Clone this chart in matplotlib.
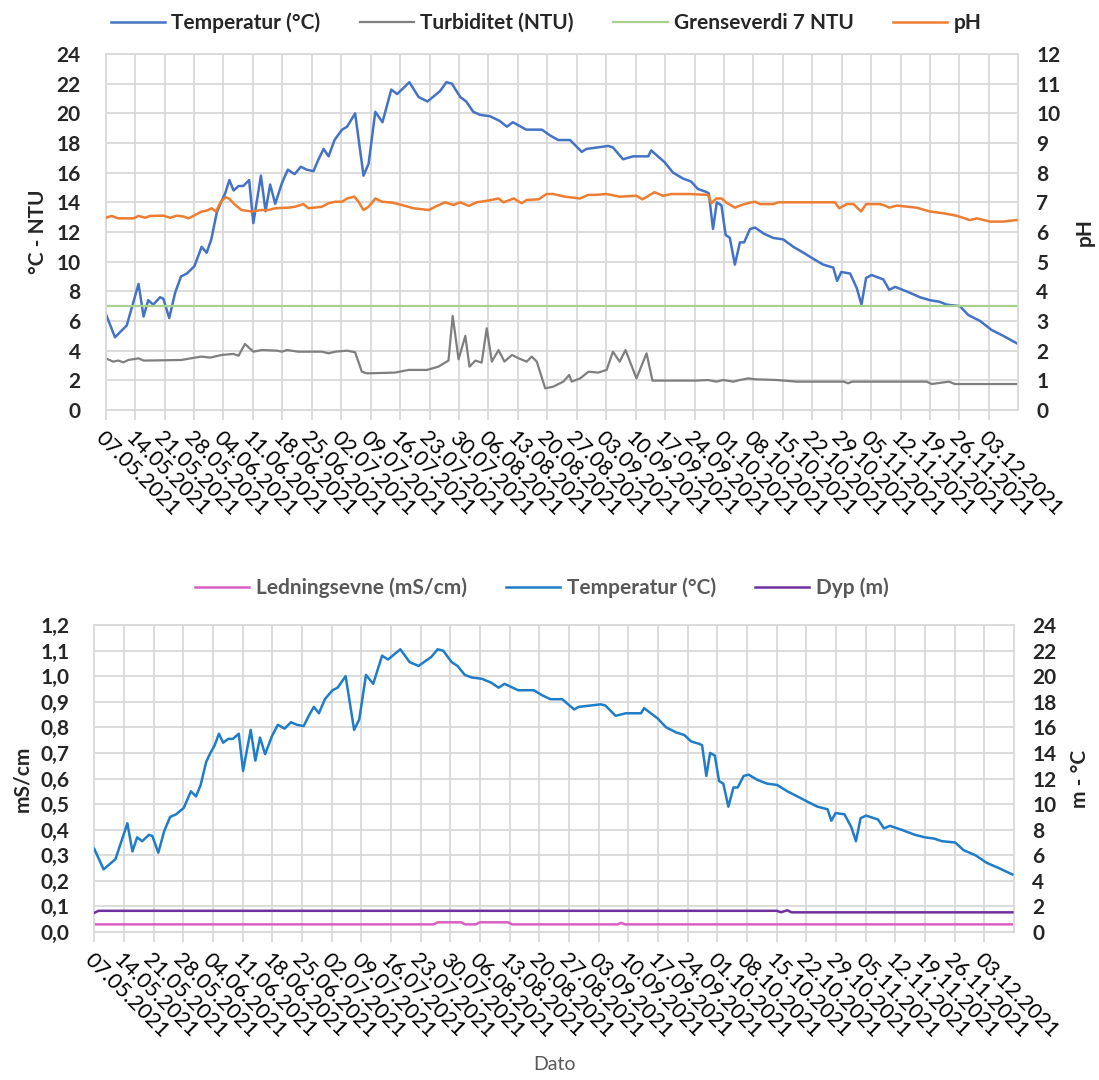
import matplotlib
matplotlib.use('Agg')
import matplotlib.pyplot as plt
import matplotlib.dates as mdates
from matplotlib.ticker import FixedLocator, FuncFormatter
import numpy as np
import datetime as dt

# ---------------- data (days counted from 07.05.2021) ----------------
start_date = dt.date(2021, 5, 7)
axis_days = 217
tick_days = list(range(0, 211, 7))  # 07.05.2021 ... 03.12.2021

temp_day = [0, 2.2, 5, 6.5, 7.8, 9, 10.1, 11.3, 12.9, 13.7, 15.1, 16.5, 17.9, 19.3, 21.1, 22.8, 24,
            25.1, 26.4, 27.4, 28.4, 29.4, 30.4, 31.6, 32.7, 34.1, 35.1, 36.9, 38, 39.1, 40.3, 41.9,
            43.3, 44.9, 46.4, 47.8, 49.4, 50.6, 51.8, 53, 54.4, 56.2, 57.4, 59.3, 61.3, 62.5, 64.1,
            65.8, 67.9, 69.3, 72.2, 74.4, 76.5, 79.5, 81, 82.3, 84.3, 85.7, 87.4, 89, 91.4, 93.6,
            95.4, 96.8, 100, 103.7, 105.7, 107.6, 110.4, 113.2, 114.3, 119.5, 120.6, 123, 125.4,
            129, 129.7, 132.9, 134.9, 137.3, 139.2, 140.8, 142.8, 143.4, 144.4, 145.3, 146.4,
            147.4, 148.4, 149.6, 150.8, 151.8, 153.2, 154.4, 156.4, 158.7, 161.1, 163.5, 165.9,
            168.2, 170.6, 173, 173.9, 174.9, 177, 178.6, 179.7, 180.8, 182.1, 184.9, 186.3, 187.7,
            190.4, 193.6, 196, 198.2, 200, 203.1, 205.1, 207.9, 210.6, 213.4, 216.6]
temp_val = [6.5, 4.9, 5.7, 7.2, 8.5, 6.3, 7.4, 7.1, 7.6, 7.5, 6.2, 7.9, 9.0, 9.2, 9.7, 11.0, 10.6,
            11.5, 13.3, 14.0, 14.6, 15.5, 14.8, 15.1, 15.1, 15.5, 12.6, 15.8, 13.4, 15.2, 13.9, 15.3,
            16.2, 15.9, 16.4, 16.2, 16.1, 16.9, 17.6, 17.1, 18.2, 18.9, 19.1, 20.0, 15.8, 16.6, 20.1,
            19.4, 21.6, 21.3, 22.1, 21.1, 20.8, 21.5, 22.1, 22.0, 21.1, 20.8, 20.1, 19.9, 19.8, 19.5,
            19.1, 19.4, 18.9, 18.9, 18.5, 18.2, 18.2, 17.4, 17.6, 17.8, 17.7, 16.9, 17.1,
            17.1, 17.5, 16.7, 16.0, 15.6, 15.4, 14.9, 14.7, 14.6, 12.2, 14.0, 13.8,
            11.8, 11.6, 9.8, 11.3, 11.3, 12.2, 12.3, 11.9, 11.6, 11.5, 11.0, 10.6,
            10.2, 9.8, 9.6, 8.7, 9.3, 9.2, 8.2, 7.1, 8.9, 9.1, 8.8, 8.1, 8.3,
            8.0, 7.6, 7.4, 7.3, 7.1, 7.0, 6.4, 6.0, 5.4, 5.0, 4.5]

turb_day = [0, 1.8, 3, 4.2, 5.4, 7.8, 9, 18, 21.2, 22.8, 24.8, 27.6, 30.3, 31.6, 33.1, 35.1, 37.1,
            40.7, 41.9, 43.1, 45.8, 51.4, 53, 54.6, 57.4, 59.3, 60.9, 62.1, 68.8, 72, 76.4, 79.1,
            81.5, 82.5, 83.9, 85.5, 86.5, 87.9, 89.4, 90.6, 91.8, 93.4, 94.8, 96.6, 98.2, 100.1,
            101.3, 102.5, 104.5, 106.4, 108.8, 110.2, 110.8, 112.8, 114.8, 117.1, 119.1, 120.6,
            122.2, 123.6, 126.2, 128.6, 130, 134.9, 140.4, 143.2, 145.2, 146.8, 149.2, 150.8,
            152.8, 154.4, 159.5, 164.3, 175.5, 176.5, 177.5, 195.2, 196.4, 200.5, 201.9, 216.6]
turb_val = [3.48, 3.26, 3.33, 3.21, 3.37, 3.48, 3.33, 3.37, 3.53, 3.6, 3.53, 3.71, 3.78, 3.66, 4.45,
            3.93, 4.04, 4.0, 3.93, 4.04, 3.93, 3.93, 3.82, 3.93, 4.0, 3.89, 2.58, 2.47, 2.52, 2.7,
            2.7, 2.92, 3.33, 6.34, 3.42, 4.99, 2.92, 3.33, 3.19, 5.51, 3.26, 4.04, 3.26, 3.71, 3.48,
            3.26, 3.6, 3.26, 1.46, 1.57, 1.91, 2.36, 1.91, 2.13, 2.58, 2.52, 2.7, 3.93, 3.26, 4.04,
            2.13, 3.82, 1.98, 1.98, 1.98, 2.02, 1.91, 2.02, 1.91, 2.02, 2.13, 2.07, 2.02, 1.91,
            1.91, 1.8, 1.91, 1.91, 1.75, 1.91, 1.75, 1.75]

threshold = 7

ph_day = [0, 1.4, 3, 6.6, 7.8, 9.4, 10.5, 13.7, 15.3, 16.9, 18.5, 19.7, 21.2, 22.8, 24, 25.2,
          26.2, 27.4, 28.5, 29.3, 30.8, 32.3, 34.7, 37.1, 38.7, 40.3, 43.4, 45, 47, 48.2, 51.4,
          53, 54.6, 56.2, 57.4, 59.1, 60.1, 61.3, 62.5, 64.1, 65.7, 68.1, 70.4, 73.2, 76.8, 78.3,
          80.7, 82.7, 84.3, 86.3, 88.2, 91, 93.4, 94.6, 97, 98.9, 100.1, 102.9, 104.8, 106.4,
          109.2, 112.8, 114.7, 116.3, 119.1, 122.2, 126.2, 127.6, 130.5, 132.5, 134.5, 138.8,
          143.2, 144, 145.2, 146.4, 147.5, 149.6, 151.2, 153.2, 154.4, 155.6, 158.7, 159.9,
          173.4, 174.4, 176.2, 177.8, 179.6, 180.8, 184.1, 185.3, 186.3, 188.1, 192.8, 196,
          199.2, 202.3, 205.5, 207.1, 210.3, 213.4, 215, 216.6]
ph_val = [6.48, 6.54, 6.46, 6.46, 6.54, 6.48, 6.54, 6.55, 6.48, 6.55, 6.52, 6.46, 6.57, 6.69, 6.72,
          6.8, 6.69, 7.02, 7.17, 7.13, 6.91, 6.74, 6.69, 6.74, 6.74, 6.8, 6.82, 6.85, 6.94, 6.8,
          6.85, 6.97, 7.02, 7.02, 7.13, 7.19, 7.02, 6.74, 6.85, 7.13, 7.02, 6.99, 6.91, 6.8, 6.74,
          6.85, 7.0, 6.91, 7.0, 6.88, 7.0, 7.06, 7.13, 7.0, 7.13, 6.97, 7.08, 7.1, 7.28, 7.28,
          7.19, 7.13, 7.25, 7.25, 7.28, 7.19, 7.22, 7.1, 7.34, 7.22, 7.28, 7.28,
          7.25, 6.97, 7.13, 7.13, 7.0, 6.82, 6.91, 6.99, 7.02, 6.94, 6.94, 7.0,
          7.0, 6.8, 6.94, 6.94, 6.69, 6.94, 6.94, 6.89, 6.82, 6.89, 6.82, 6.69,
          6.63, 6.55, 6.4, 6.46, 6.35, 6.35, 6.38, 6.4]

cond_day = [0, 80, 81, 86.5, 87.5, 90, 91, 97.6, 98.6, 123.5, 124.3, 125.2, 216.6]
cond_val = [0.03, 0.03, 0.038, 0.038, 0.03, 0.03, 0.038, 0.038, 0.03, 0.03, 0.036, 0.03, 0.03]

depth_day = [0, 1, 161, 162, 163.5, 164.5, 216.6]
depth_val = [1.5, 1.66, 1.66, 1.55, 1.7, 1.54, 1.54]

# ---------------- style ----------------
plt.rcParams['font.family'] = ['Lato', 'DejaVu Sans']
GRID = '#D9D9D9'
TXT = '#262626'
GRAYTXT = '#595959'

base = mdates.date2num(start_date)
def to_x(days):
    return base + np.asarray(days, dtype=float)

tick_x = to_x(tick_days)
xmin, xmax = base, base + axis_days

fig = plt.figure(figsize=(10.99, 10.80), dpi=100)

def style_x(ax, label_size):
    ax.set_xlim(xmin, xmax)
    ax.xaxis.set_major_locator(FixedLocator(tick_x))
    ax.xaxis.set_major_formatter(mdates.DateFormatter('%d.%m.%Y'))
    ax.tick_params(axis='x', direction='out', length=7, width=1.3, color=GRID,
                   labelsize=label_size, labelcolor='#000000', pad=6)
    for lab in ax.get_xticklabels():
        lab.set_rotation(-45)
        lab.set_ha('left')
        lab.set_va('top')
        lab.set_rotation_mode('anchor')
    ax.grid(True, color=GRID, linewidth=1.3)
    ax.set_axisbelow(True)
    for s in ax.spines.values():
        s.set_color(GRID)
        s.set_linewidth(1.3)

def bold_ticks(ax, pad):
    ax.tick_params(axis='y', length=0, labelsize=15, labelcolor=TXT, pad=pad)
    for lab in ax.get_yticklabels():
        lab.set_fontweight('bold')

# ---------------- top chart ----------------
ax1 = fig.add_axes([0.0962, 0.6204, 0.8304, 0.3296])
ax1b = ax1.twinx()
l1, = ax1.plot(to_x(temp_day), temp_val, color='#4472C4', lw=1.8, label='Temperatur (°C)')
l2, = ax1.plot(to_x(turb_day), turb_val, color='#7F7F7F', lw=1.6, label='Turbiditet (NTU)')
l3, = ax1.plot(to_x([temp_day[0], temp_day[-1]]), [threshold, threshold], color='#A9D18E',
               lw=1.6, label='Grenseverdi 7 NTU')
l4, = ax1b.plot(to_x(ph_day), ph_val, color='#ED7D31', lw=1.8, label='pH')
ax1.set_ylim(0, 24)
ax1.set_yticks(range(0, 25, 2))
ax1b.set_ylim(0, 12)
ax1b.set_yticks(range(0, 13, 1))
style_x(ax1, 15.5)
bold_ticks(ax1, 18)
bold_ticks(ax1b, 13)
for s in ax1b.spines.values():
    s.set_visible(False)
ax1.set_ylabel('°C - NTU', fontsize=15, fontweight='bold', color=TXT, labelpad=6)
ax1b.set_ylabel('pH', fontsize=15, fontweight='bold', color=TXT, labelpad=10, rotation=90)

fig.legend(handles=[l1, l2, l3, l4], loc='center', bbox_to_anchor=(0.497, 0.979), ncol=4,
           frameon=False, prop={'weight': 'bold', 'size': 15}, labelcolor=TXT,
           handlelength=2.6, handletextpad=0.3, columnspacing=1.9)

# ---------------- bottom chart ----------------
ax2 = fig.add_axes([0.0858, 0.1370, 0.8369, 0.2843])
ax2b = ax2.twinx()
m1, = ax2.plot(to_x(cond_day), cond_val, color='#DA5FC2', lw=1.8, label='Ledningsevne (mS/cm)')
m2, = ax2b.plot(to_x(temp_day), temp_val, color='#1F7CC8', lw=1.8, label='Temperatur (°C)')
m3, = ax2b.plot(to_x(depth_day), depth_val, color='#7030A0', lw=1.8, label='Dyp (m)')
ax2.set_ylim(0, 1.2)
ax2.set_yticks(np.round(np.arange(0, 1.21, 0.1), 1))
ax2.yaxis.set_major_formatter(FuncFormatter(lambda v, p: f'{v:.1f}'.replace('.', ',')))
ax2b.set_ylim(0, 24)
ax2b.set_yticks(range(0, 25, 2))
style_x(ax2, 15.5)
bold_ticks(ax2, 18)
bold_ticks(ax2b, 13)
for s in ax2b.spines.values():
    s.set_visible(False)
ax2.set_ylabel('mS/cm', fontsize=15, fontweight='bold', color=TXT, labelpad=6)
ax2b.set_ylabel('m - °C', fontsize=15, fontweight='bold', color=TXT, labelpad=10, rotation=90)
ax2.set_xlabel('Dato', fontsize=14, color=GRAYTXT, labelpad=10)

fig.legend(handles=[m1, m2, m3], loc='center', bbox_to_anchor=(0.493, 0.4556), ncol=3,
           frameon=False, prop={'weight': 'bold', 'size': 15}, labelcolor=GRAYTXT,
           handlelength=2.6, handletextpad=0.3, columnspacing=1.9)

fig.savefig('out.png', dpi=100)
